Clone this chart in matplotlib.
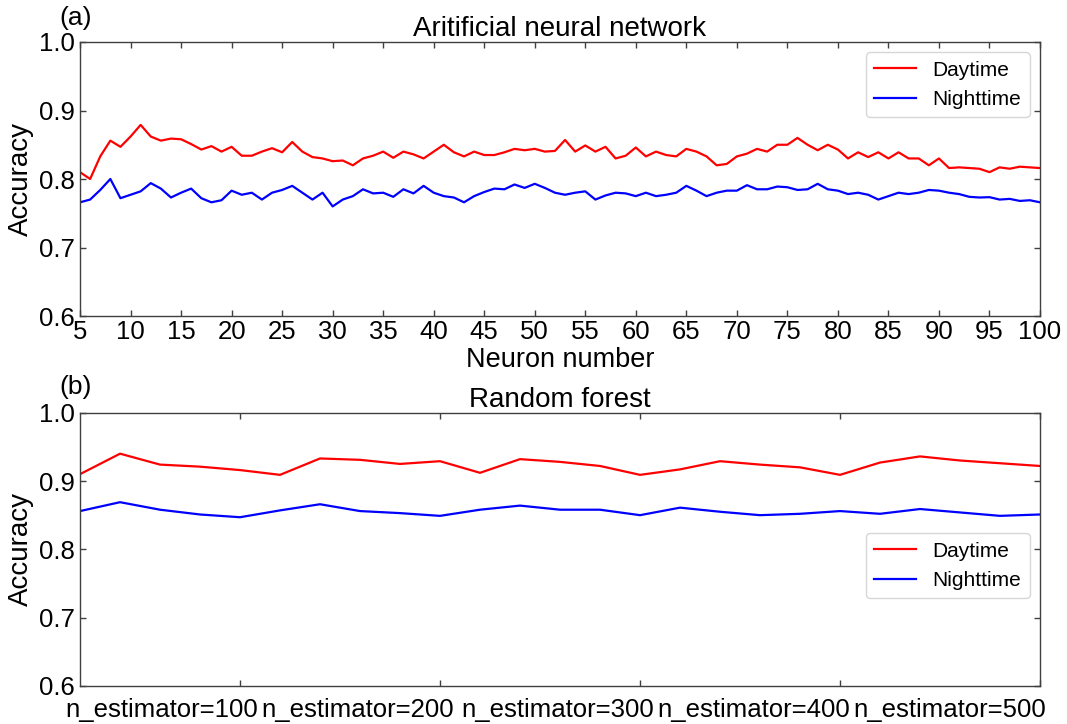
import matplotlib
matplotlib.use("Agg")
import matplotlib.pyplot as plt

plt.rcParams['font.family'] = ['Liberation Sans', 'DejaVu Sans']

# (a) ANN accuracy vs neuron number
neurons = list(range(5, 101))
ann_day = [0.810, 0.800, 0.833, 0.856, 0.847, 0.862, 0.879, 0.862, 0.856, 0.859,
           0.858, 0.851, 0.843, 0.848, 0.840, 0.847, 0.834, 0.834, 0.840, 0.845,
           0.839, 0.854, 0.840, 0.832, 0.830, 0.826, 0.827, 0.820, 0.830, 0.834,
           0.840, 0.831, 0.840, 0.836, 0.830, 0.840, 0.850, 0.839, 0.833, 0.840,
           0.835, 0.835, 0.839, 0.844, 0.842, 0.844, 0.840, 0.841, 0.857, 0.840,
           0.849, 0.840, 0.847, 0.830, 0.834, 0.846, 0.833, 0.840, 0.835, 0.833,
           0.844, 0.840, 0.833, 0.820, 0.822, 0.833, 0.837, 0.844, 0.840, 0.850,
           0.850, 0.860, 0.850, 0.842, 0.850, 0.843, 0.830, 0.839, 0.832, 0.839,
           0.830, 0.839, 0.830, 0.830, 0.820, 0.830, 0.816, 0.817, 0.816, 0.815,
           0.810, 0.817, 0.815, 0.818, 0.817, 0.816]
ann_night = [0.766, 0.770, 0.784, 0.800, 0.772, 0.777, 0.782, 0.794, 0.786, 0.773,
             0.780, 0.786, 0.772, 0.766, 0.769, 0.783, 0.777, 0.780, 0.770, 0.780,
             0.784, 0.790, 0.780, 0.770, 0.780, 0.760, 0.770, 0.775, 0.785, 0.779,
             0.780, 0.774, 0.785, 0.779, 0.790, 0.780, 0.775, 0.773, 0.766, 0.775,
             0.781, 0.786, 0.785, 0.792, 0.787, 0.793, 0.787, 0.780, 0.777, 0.780,
             0.782, 0.770, 0.776, 0.780, 0.779, 0.775, 0.780, 0.775, 0.777, 0.780,
             0.790, 0.783, 0.775, 0.780, 0.783, 0.783, 0.791, 0.785, 0.785, 0.789,
             0.788, 0.784, 0.785, 0.793, 0.785, 0.783, 0.778, 0.780, 0.777, 0.770,
             0.775, 0.780, 0.778, 0.780, 0.784, 0.783, 0.780, 0.778, 0.774, 0.773,
             0.7735, 0.770, 0.771, 0.768, 0.769, 0.766]

# (b) random forest accuracy vs n_estimators
estimators = [20, 40, 60, 80, 100, 120, 140, 160, 180, 200, 220, 240, 260,
              280, 300, 320, 340, 360, 380, 400, 420, 440, 460, 480, 500]
rf_day = [0.910, 0.940, 0.924, 0.921, 0.916, 0.909, 0.933, 0.931, 0.925, 0.929,
          0.912, 0.932, 0.928, 0.922, 0.909, 0.917, 0.929, 0.924, 0.920, 0.909,
          0.927, 0.936, 0.930, 0.926, 0.922]
rf_night = [0.856, 0.869, 0.858, 0.851, 0.847, 0.857, 0.866, 0.856, 0.853, 0.849,
            0.858, 0.864, 0.858, 0.858, 0.850, 0.861, 0.855, 0.850, 0.852, 0.856,
            0.852, 0.859, 0.854, 0.849, 0.851]
rf_ticks = [100, 200, 300, 400, 500]
rf_labels = ['n_estimator=100', 'n_estimator=200', 'n_estimator=300',
             'n_estimator=400', 'n_estimator=500']
rf_label_pos = [61, 159, 259, 357, 455]

spine_col = '#404040'

fig = plt.figure(figsize=(10.67, 7.24), dpi=100)
ax1 = fig.add_axes([0.075, 0.5635, 0.8997, 0.3785])
ax2 = fig.add_axes([0.075, 0.0525, 0.8997, 0.3775])


def style_axes(ax):
    for s in ax.spines.values():
        s.set_color(spine_col)
        s.set_linewidth(1.0)
    ax.tick_params(which='major', direction='in', top=True, right=True,
                   length=4, width=1, color=spine_col, labelsize=18.5)
    ax.tick_params(axis='y', pad=4)
    ax.set_ylim(0.6, 1.0)
    ax.set_yticks([0.6, 0.7, 0.8, 0.9, 1.0])
    ax.set_ylabel('Accuracy', fontsize=20, labelpad=3)


# top panel
ax1.plot(neurons, ann_day, color='red', lw=1.6, label='Daytime')
ax1.plot(neurons, ann_night, color='blue', lw=1.6, label='Nighttime')
style_axes(ax1)
ax1.set_xlim(5, 100)
ax1.set_xticks(range(5, 101, 5))
ax1.tick_params(axis='x', pad=3)
ax1.set_xlabel('Neuron number', fontsize=19.5, labelpad=2)
ax1.set_title('Aritificial neural network', fontsize=20, pad=4)
ax1.legend(loc='upper right', fontsize=15)

# bottom panel
ax2.plot(estimators, rf_day, color='red', lw=1.6, label='Daytime')
ax2.plot(estimators, rf_night, color='blue', lw=1.6, label='Nighttime')
style_axes(ax2)
ax2.set_xlim(20, 500)
ax2.set_xticks(rf_ticks, [''] * len(rf_ticks))
ax2.set_xticks(rf_label_pos, rf_labels, minor=True)
ax2.tick_params(axis='x', which='minor', length=0, pad=9, labelsize=18.5)
ax2.set_title('Random forest', fontsize=20, pad=4)
ax2.legend(loc='center right', bbox_to_anchor=(1.0, 0.44), fontsize=15)

fig.text(0.056, 0.992, '(a)', fontsize=19, va='top', ha='left')
fig.text(0.056, 0.482, '(b)', fontsize=19, va='top', ha='left')

fig.savefig('out.png', dpi=100)
